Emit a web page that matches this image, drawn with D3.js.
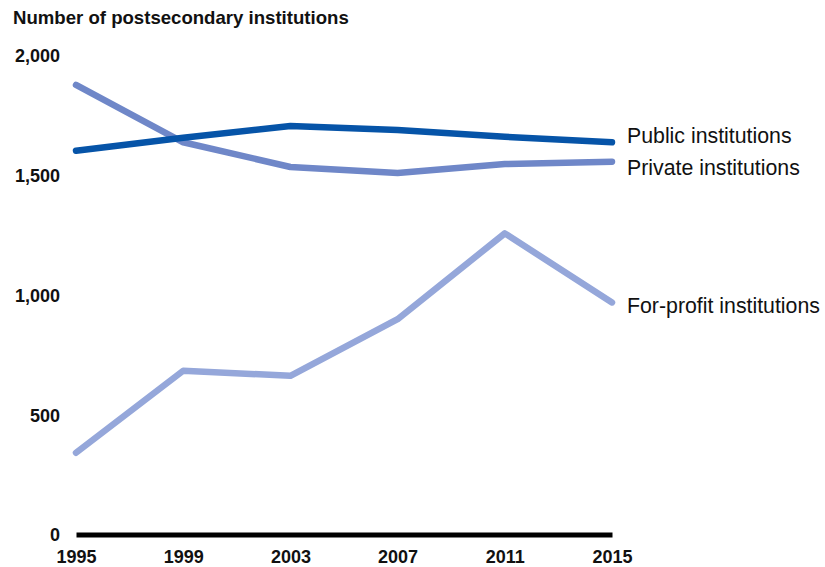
<!DOCTYPE html>
<html>
<head>
<meta charset="utf-8">
<script src="https://cdn.jsdelivr.net/npm/d3@7"></script>
<style>
  html, body { margin: 0; padding: 0; background: #fff; }
  svg { display: block; font-family: "Liberation Sans", Arial, sans-serif; }
</style>
</head>
<body>
<svg id="chart" width="825" height="567"></svg>
<script>
// Number of postsecondary institutions by sector
const years = [1995, 1999, 2003, 2007, 2011, 2015];
const publicInst = [1601, 1655, 1704, 1687, 1659, 1636];
const privateInst = [1875, 1636, 1533, 1508, 1545, 1555];
const forProfitInst = [341, 683, 662, 898, 1256, 968];
const yTicks = [0, 500, 1000, 1500, 2000];
const seriesNames = ["Public institutions", "Private institutions", "For-profit institutions"];
const seriesColors = ["#0654a8", "#6f87c8", "#95a7da"];

const series = [
  { name: seriesNames[0], values: publicInst, color: seriesColors[0], labelDy: -7 },
  { name: seriesNames[1], values: privateInst, color: seriesColors[1], labelDy: 6 },
  { name: seriesNames[2], values: forProfitInst, color: seriesColors[2], labelDy: 3 }
];

const svg = d3.select("#chart");
const x = d3.scaleLinear().domain([1995, 2015]).range([76, 612]);
const y = d3.scaleLinear().domain([0, 2000]).range([534.5, 55]);
const FONT = "Liberation Sans, Arial, sans-serif";

// Title
svg.append("text")
  .attr("x", 13).attr("y", 24)
  .attr("font-size", 18.6).attr("font-weight", "bold").attr("fill", "#111")
  .text("Number of postsecondary institutions");

// Y axis labels (no axis line)
const yAxis = d3.axisLeft(y).tickValues(yTicks).tickSize(0).tickPadding(0)
  .tickFormat(d3.format(","));
const gy = svg.append("g").attr("transform", "translate(60,0)").call(yAxis)
  .attr("font-size", 18).attr("font-family", FONT);
gy.select(".domain").remove();
gy.selectAll("text").attr("font-weight", "bold")
  .attr("fill", "#111").attr("dy", "0.36em");

// X axis: thick baseline with year labels
const xAxis = d3.axisBottom(x).tickValues(years).tickSize(0).tickPadding(0)
  .tickFormat(d3.format("d"));
const gx = svg.append("g").attr("transform", `translate(0,${y(0)})`).call(xAxis)
  .attr("font-size", 18).attr("font-family", FONT);
gx.select(".domain").attr("stroke", "#000").attr("stroke-width", 5);
gx.selectAll("text").attr("font-weight", "bold")
  .attr("fill", "#111").attr("y", 28.5).attr("dy", 0);

// Lines
const line = d3.line().x((d, i) => x(years[i])).y(d => y(d));
svg.append("g").selectAll("path")
  .data(series.slice().reverse())
  .join("path")
  .attr("d", d => line(d.values))
  .attr("fill", "none")
  .attr("stroke", d => d.color)
  .attr("stroke-width", 6.5)
  .attr("stroke-linecap", "round")
  .attr("stroke-linejoin", "round");

// End labels
svg.append("g").selectAll("text")
  .data(series)
  .join("text")
  .attr("x", x(2015) + 15)
  .attr("y", d => y(d.values[d.values.length - 1]) + d.labelDy)
  .attr("dy", "0.35em")
  .attr("font-size", 21.3)
  .attr("fill", "#111")
  .text(d => d.name);
</script>
</body>
</html>
